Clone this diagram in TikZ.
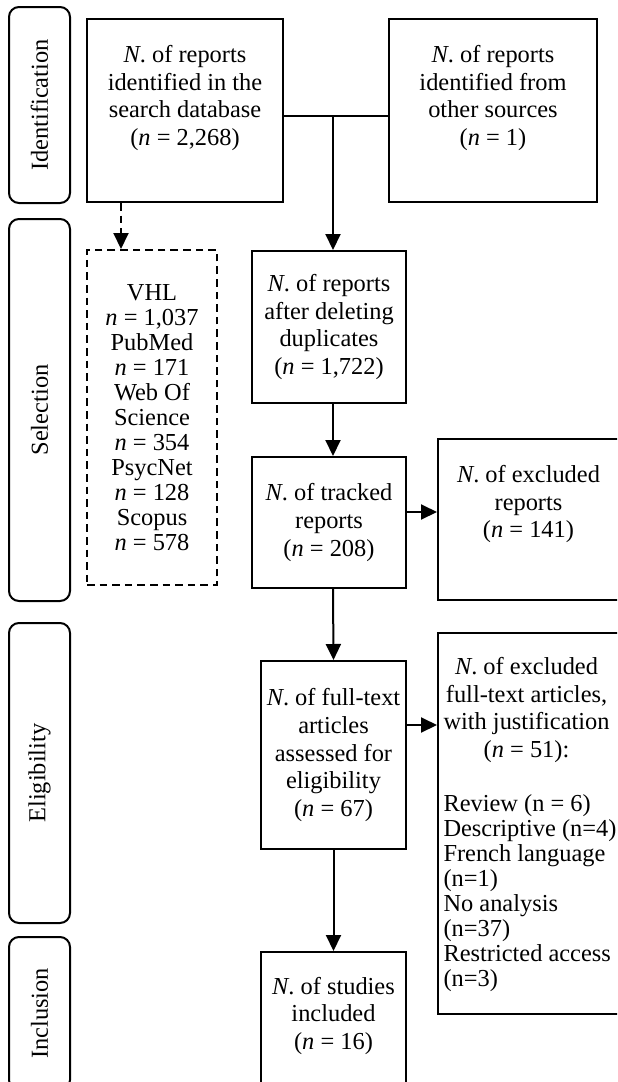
\documentclass[tikz,border=0pt]{standalone}
\usepackage{fontspec}
\setmainfont{Liberation Serif}
\usetikzlibrary{arrows.meta}

\tikzset{
    box/.style={draw, line width=1pt, align=center, inner sep=1pt},
    phase/.style={draw, line width=1pt, rounded corners=5pt, rotate=90, minimum height=30.5pt},
    arr/.style={line width=1pt, -{Triangle[length=8pt,width=7.5pt]}},
    dasharr/.style={arr, dash pattern=on 3.8pt off 2.5pt}
}

\begin{document}
\begin{tikzpicture}[x=0.5pt, y=-0.5pt, font=\fontsize{12.2}{13.8}\selectfont]
    \clip (0, 0) rectangle (617, 1082);

    \node[phase, minimum width=98pt] (ident) at (39.5, 105) {Identification};
    \node[phase, minimum width=191pt] (select) at (39.5, 410) {Selection};
    \node[phase, minimum width=150pt] (elig) at (39.5, 773) {Eligibility};
    \node[phase, minimum width=76.5pt] (incl) at (39.5, 1013.5) {Inclusion};

    \node[box, minimum width=98pt, minimum height=91.5pt, text depth=15pt] (dbsearch) at (185, 110.5)
        {\textit{N}. of reports\\identified in the\\search database\\(\textit{n} = 2,268)};
    \node[box, minimum width=104pt, minimum height=91.5pt, text depth=15pt] (other) at (493, 110.5)
        {\textit{N}. of reports\\identified from\\other sources\\(\textit{n} = 1)};
    \node[box, dash pattern=on 3.8pt off 2.5pt, minimum width=65pt, minimum height=167.5pt,
        font=\fontsize{12.2}{12.5}\selectfont] (bases) at (152, 417.5)
        {VHL\\\textit{n} = 1,037\\PubMed\\\textit{n} = 171\\Web Of\\Science\\\textit{n} = 354\\PsycNet\\\textit{n} = 128\\Scopus\\\textit{n} = 578};
    \node[box, minimum width=77pt, minimum height=76pt] (dedup) at (329, 327)
        {\textit{N}. of reports\\after deleting\\duplicates\\(\textit{n} = 1,722)};
    \node[box, minimum width=77pt, minimum height=65.5pt] (tracked) at (329, 522.5)
        {\textit{N}. of tracked\\reports\\(\textit{n} = 208)};
    \node[box, minimum width=90.5pt, minimum height=80.5pt, text depth=18pt] (excl) at (528.5, 519.5)
        {\textit{N}. of excluded\\reports\\(\textit{n} = 141)};
    \node[box, minimum width=72.5pt, minimum height=94pt] (fulltext) at (333.5, 755)
        {\textit{N}. of full-text\\articles\\assessed for\\eligibility\\(\textit{n} = 67)};
    \node[box, align=left, minimum width=92pt, minimum height=190.5pt,
        font=\fontsize{12.2}{12.5}\selectfont] (exclft) at (530, 823.5)
        {{\renewcommand{\arraystretch}{1.1}\begin{tabular}{@{}c@{}}\textit{N}. of excluded\\full-text articles,\\with justification\\(\textit{n} = 51):\end{tabular}}\\[13.7pt]
         Review (n = 6)\\Descriptive (n=4)\\French language\\(n=1)\\No analysis\\(n=37)\\Restricted access\\(n=3)};
    \node[box, minimum width=72.5pt, minimum height=74pt, text depth=13pt] (studies) at (333.5, 1026)
        {\textit{N}. of studies\\included\\(\textit{n} = 16)};

    \coordinate (split) at (333, 116);
    \draw[line width=1pt] (split -| dbsearch.east) -- (split -| other.west);
    \draw[arr] (split) -- (split |- dedup.north);
    \draw[dasharr] ([xshift=-32pt]dbsearch.south) -- ([xshift=-32pt]dbsearch.south |- bases.north);
    \draw[arr] ([xshift=2pt]dedup.south) -- ([xshift=2pt]tracked.north);
    \draw[arr] ([yshift=5.25pt]tracked.east) -- ([yshift=5.25pt]tracked.east -| excl.west);
    \draw[arr] ([xshift=2pt]tracked.south) -- (fulltext.north);
    \draw[arr] ([yshift=15pt]fulltext.east) -- ([yshift=15pt]fulltext.east -| exclft.west);
    \draw[arr] (fulltext) -- (studies);
\end{tikzpicture}
\end{document}
